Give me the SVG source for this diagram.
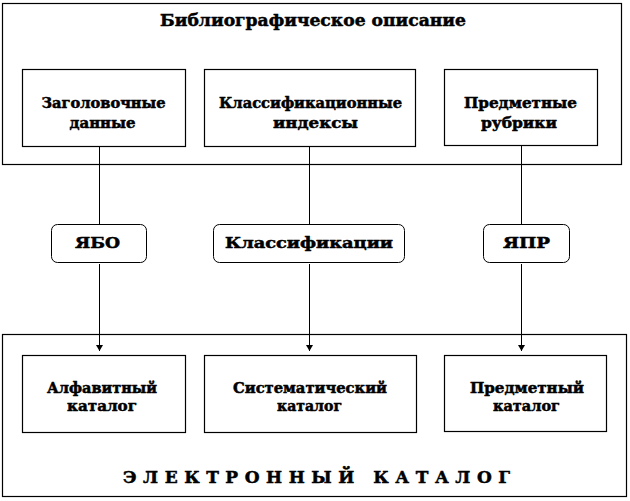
<svg xmlns="http://www.w3.org/2000/svg" width="630" height="501" viewBox="0 0 630 501">
<style>
.frame{fill:#fff;stroke:#000;stroke-width:1.2}
.box{fill:#fff;stroke:#000;stroke-width:1.2}
.pill{fill:#fff;stroke:#000;stroke-width:1}
.t{font-family:"DejaVu Serif","Liberation Serif",serif;font-weight:bold;fill:#000;stroke:#000;stroke-width:0.5;text-anchor:middle}
.s14{font-size:14px}
.s15{font-size:15px}
.s17{font-size:17px}
.ln{stroke:#000;stroke-width:1;fill:none}
</style>
<defs>
<marker id="ah" markerWidth="8" markerHeight="8" refX="6" refY="3.5" orient="auto" markerUnits="userSpaceOnUse">
<path d="M0,0 L6,3.5 L0,7 Z" fill="#000"/>
</marker>
</defs>
<rect width="630" height="501" fill="#fff"/>
<g id="bibl-desc">
<rect class="frame" x="2.5" y="3.5" width="619" height="161"/>
<text class="t s17" x="313" y="26" textLength="306" lengthAdjust="spacingAndGlyphs">Библиографическое описание</text>
</g>
<g id="zag">
<rect class="box" x="22.5" y="69.5" width="163" height="77"/>
<text class="t s14" x="103.5" y="108" textLength="124" lengthAdjust="spacingAndGlyphs">Заголовочные</text>
<text class="t s14" x="102.5" y="128" textLength="66" lengthAdjust="spacingAndGlyphs">данные</text>
</g>
<g id="klass-ind">
<rect class="box" x="204.5" y="69.5" width="211" height="77"/>
<text class="t s14" x="310.5" y="108" textLength="183" lengthAdjust="spacingAndGlyphs">Классификационные</text>
<text class="t s14" x="315.5" y="128" textLength="85" lengthAdjust="spacingAndGlyphs">индексы</text>
</g>
<g id="pred-rub">
<rect class="box" x="444.5" y="69.5" width="153" height="76"/>
<text class="t s14" x="520.5" y="108" textLength="113" lengthAdjust="spacingAndGlyphs">Предметные</text>
<text class="t s14" x="519" y="128" textLength="76" lengthAdjust="spacingAndGlyphs">рубрики</text>
</g>
<g id="ybo">
<rect class="pill" x="51.5" y="224.5" width="95" height="38" rx="6"/>
<text class="t s15" x="97.5" y="248" textLength="45" lengthAdjust="spacingAndGlyphs">ЯБО</text>
</g>
<g id="klass">
<rect class="pill" x="213.5" y="224.5" width="191" height="38" rx="6"/>
<text class="t s15" x="309" y="248" textLength="168" lengthAdjust="spacingAndGlyphs">Классификации</text>
</g>
<g id="ypr">
<rect class="pill" x="483.5" y="224.5" width="86" height="38" rx="6"/>
<text class="t s15" x="526.5" y="248" textLength="47" lengthAdjust="spacingAndGlyphs">ЯПР</text>
</g>
<g id="el-cat">
<rect class="frame" x="2.5" y="334.5" width="624" height="162"/>
<text class="t s17" x="316.5" y="483" textLength="387" lengthAdjust="spacing">ЭЛЕКТРОННЫЙ КАТАЛОГ</text>
</g>
<g id="alf">
<rect class="box" x="22.5" y="355.5" width="163" height="77"/>
<text class="t s14" x="102" y="393" textLength="110" lengthAdjust="spacingAndGlyphs">Алфавитный</text>
<text class="t s14" x="102" y="411" textLength="70" lengthAdjust="spacingAndGlyphs">каталог</text>
</g>
<g id="sist">
<rect class="box" x="204.5" y="355.5" width="212" height="77"/>
<text class="t s14" x="310" y="393" textLength="154" lengthAdjust="spacingAndGlyphs">Систематический</text>
<text class="t s14" x="309.5" y="411" textLength="65" lengthAdjust="spacingAndGlyphs">каталог</text>
</g>
<g id="pred">
<rect class="box" x="444.5" y="355.5" width="162" height="76"/>
<text class="t s14" x="527" y="393" textLength="114" lengthAdjust="spacingAndGlyphs">Предметный</text>
<text class="t s14" x="526.5" y="411" textLength="67" lengthAdjust="spacingAndGlyphs">каталог</text>
</g>
<g id="connectors">
<line class="ln" x1="99.5" y1="146.5" x2="99.5" y2="224.5"/>
<line class="ln" x1="99.5" y1="264" x2="99.5" y2="351" marker-end="url(#ah)"/>
<line class="ln" x1="309.5" y1="146.5" x2="309.5" y2="224.5"/>
<line class="ln" x1="309.5" y1="264" x2="309.5" y2="351" marker-end="url(#ah)"/>
<line class="ln" x1="521.5" y1="145.5" x2="521.5" y2="224.5"/>
<line class="ln" x1="521.5" y1="264" x2="521.5" y2="351" marker-end="url(#ah)"/>
</g>
</svg>
